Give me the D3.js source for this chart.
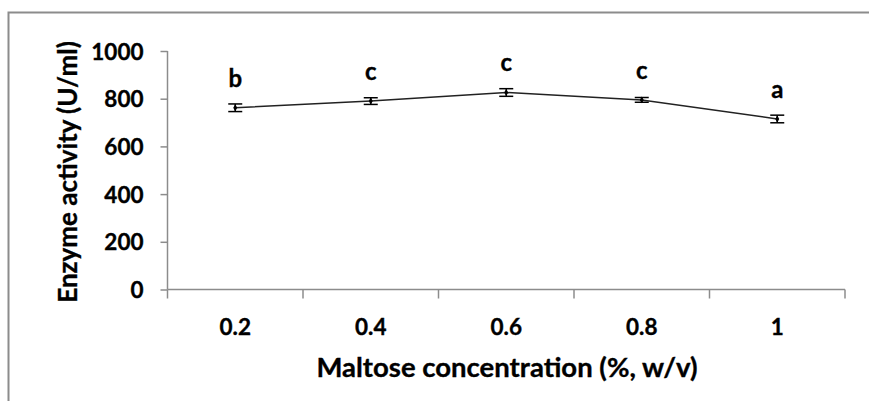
<!DOCTYPE html>
<html>
<head>
<meta charset="utf-8">
<script src="https://cdn.jsdelivr.net/npm/d3@7"></script>
<style>
  html, body { margin: 0; padding: 0; background: #fff; overflow: hidden; }
  svg { display: block; font-family: Lato, "Open Sans", sans-serif; font-weight: bold; }
  text { stroke: #000; stroke-width: 0.35px; }
</style>
</head>
<body>
<svg id="chart" width="869" height="401"></svg>
<script>
// Maltose concentration levels (% w/v)
const concentrations = ["0.2", "0.4", "0.6", "0.8", "1"];
// Mean enzyme activity (U/ml) and standard deviation
const activity = [762, 790, 826, 795, 715];
const activityErr = [16, 14, 16, 10, 16];
// Significance groups
const groups = ["b", "c", "c", "c", "a"];
// Y axis ticks
const yTicks = [0, 200, 400, 600, 800, 1000];

const svg = d3.select("#chart");
const axisGray = "#8c8c8c";

// chart-area frame: left and top edges
svg.append("path")
  .attr("d", "M8.5,401V12.5H869")
  .attr("fill", "none").attr("stroke", axisGray).attr("stroke-width", 2);

const x = d3.scaleBand().domain(concentrations).range([167.5, 845]).paddingInner(0).paddingOuter(0);
const y = d3.scaleLinear().domain([0, 1000]).range([289.5, 51]);
const cx = d => x(d) + x.bandwidth() / 2;

// y axis
const yAxis = svg.append("g")
  .attr("transform", `translate(${x.range()[0]},0)`)
  .call(d3.axisLeft(y).tickValues(yTicks).tickSize(7).tickPadding(17).tickFormat(d3.format("d")));
yAxis.select(".domain").attr("stroke", axisGray).attr("stroke-width", 1.5).attr("d", `M0,${y(1000)}V${y(0)}`);
yAxis.selectAll(".tick line").attr("stroke", axisGray).attr("stroke-width", 1.5);
yAxis.selectAll(".tick text").attr("fill", "#000").style("font-size", "22.5px").style("font-weight", "bold")
  .style("font-family", "Lato, sans-serif").attr("dy", "0.36em");

// x axis: line, category boundary ticks, centered labels
const gx = svg.append("g");
gx.append("line")
  .attr("x1", x.range()[0]).attr("x2", x.range()[1])
  .attr("y1", y(0)).attr("y2", y(0))
  .attr("stroke", axisGray).attr("stroke-width", 1.5);
const bounds = concentrations.map(c => x(c)).concat([x.range()[1]]);
gx.selectAll("line.bound").data(bounds).join("line")
  .attr("class", "bound")
  .attr("x1", d => d).attr("x2", d => d)
  .attr("y1", y(0)).attr("y2", y(0) + 9)
  .attr("stroke", axisGray).attr("stroke-width", 1.5);
gx.selectAll("text").data(concentrations).join("text")
  .attr("x", d => cx(d)).attr("y", 334.5)
  .attr("text-anchor", "middle")
  .style("font-size", "22.5px")
  .text(d => d);

// connecting line
const data = concentrations.map((c, i) => ({ c, v: activity[i], e: activityErr[i], g: groups[i] }));
svg.append("path")
  .datum(data)
  .attr("fill", "none").attr("stroke", "#222").attr("stroke-width", 1.5)
  .attr("d", d3.line().x(d => cx(d.c)).y(d => y(d.v)));

// error bars
const eb = svg.append("g").attr("stroke", "#000").attr("stroke-width", 1.5);
data.forEach(d => {
  const px = cx(d.c);
  eb.append("line").attr("x1", px).attr("x2", px).attr("y1", y(d.v + d.e)).attr("y2", y(d.v - d.e));
  eb.append("line").attr("x1", px - 7).attr("x2", px + 7).attr("y1", y(d.v + d.e)).attr("y2", y(d.v + d.e));
  eb.append("line").attr("x1", px - 7).attr("x2", px + 7).attr("y1", y(d.v - d.e)).attr("y2", y(d.v - d.e));
});

// point markers
svg.selectAll("path.pt").data(data).join("path")
  .attr("class", "pt")
  .attr("transform", d => `translate(${cx(d.c)},${y(d.v)})`)
  .attr("d", d3.symbol(d3.symbolDiamond, 14))
  .attr("fill", "#000");

// group letters
svg.selectAll("text.grp").data(data).join("text")
  .attr("class", "grp")
  .attr("x", d => cx(d.c))
  .attr("y", d => y(d.v) - 21)
  .attr("text-anchor", "middle")
  .style("font-size", "24px")
  .text(d => d.g);

// axis titles
svg.append("text")
  .attr("x", 507).attr("y", 377)
  .attr("text-anchor", "middle")
  .style("font-size", "27.5px")
  .text("Maltose concentration (%, w/v)");

svg.append("text")
  .attr("transform", "translate(77,172) rotate(-90)")
  .attr("text-anchor", "middle")
  .style("font-size", "26px")
  .text("Enzyme activity (U/ml)");
</script>
</body>
</html>
